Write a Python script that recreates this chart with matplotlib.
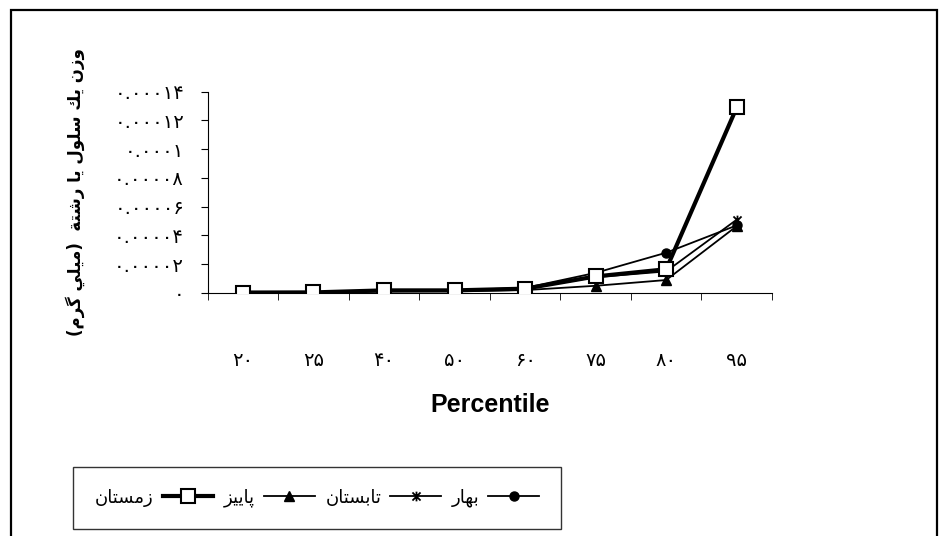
import matplotlib
matplotlib.use("Agg")
import matplotlib.pyplot as plt
import numpy as np
from matplotlib.path import Path
from matplotlib.patches import Rectangle

# categories (percentiles) and series values (mg)
percentiles = ["۲۰", "۲۵", "۴۰", "۵۰", "۶۰", "۷۵", "۸۰", "۹۵"]
spring = [3e-7, 4e-7, 1.5e-6, 2.0e-6, 3.5e-6, 1.40e-5, 2.80e-5, 4.70e-5]
summer = [3e-7, 4e-7, 1.5e-6, 1.8e-6, 3.0e-6, 1.10e-5, 1.50e-5, 5.10e-5]
autumn = [2e-7, 3e-7, 1.0e-6, 1.2e-6, 2.0e-6, 5.0e-6, 9.0e-6, 4.65e-5]
winter = [3e-7, 4e-7, 1.8e-6, 1.8e-6, 3.0e-6, 1.15e-5, 1.65e-5, 1.29e-4]

ytick_values = [0, 2e-5, 4e-5, 6e-5, 8e-5, 1e-4, 1.2e-4, 1.4e-4]
ytick_labels = ["۰", "۰.۰۰۰۰۲", "۰.۰۰۰۰۴", "۰.۰۰۰۰۶", "۰.۰۰۰۰۸",
                "۰.۰۰۰۱", "۰.۰۰۰۱۲", "۰.۰۰۰۱۴"]

name_spring = "بهار"
name_summer = "تابستان"
name_autumn = "پاييز"
name_winter = "زمستان"
ylabel_text = "وزن يك سلول يا رشتة  (ميلي گرم)"

# presentation forms: isolated, final, initial, medial
FORMS = {
    "ا": ("\uFE8D", "\uFE8E", None, None),
    "ب": ("\uFE8F", "\uFE90", "\uFE91", "\uFE92"),
    "پ": ("\uFB56", "\uFB57", "\uFB58", "\uFB59"),
    "ت": ("\uFE95", "\uFE96", "\uFE97", "\uFE98"),
    "ة": ("\uFE93", "\uFE94", None, None),
    "ر": ("\uFEAD", "\uFEAE", None, None),
    "ز": ("\uFEAF", "\uFEB0", None, None),
    "س": ("\uFEB1", "\uFEB2", "\uFEB3", "\uFEB4"),
    "ش": ("\uFEB5", "\uFEB6", "\uFEB7", "\uFEB8"),
    "ك": ("\uFED9", "\uFEDA", "\uFEDB", "\uFEDC"),
    "گ": ("\uFB92", "\uFB93", "\uFB94", "\uFB95"),
    "ل": ("\uFEDD", "\uFEDE", "\uFEDF", "\uFEE0"),
    "م": ("\uFEE1", "\uFEE2", "\uFEE3", "\uFEE4"),
    "ن": ("\uFEE5", "\uFEE6", "\uFEE7", "\uFEE8"),
    "ه": ("\uFEE9", "\uFEEA", "\uFEEB", "\uFEEC"),
    "و": ("\uFEED", "\uFEEE", None, None),
    "ي": ("\uFEF1", "\uFEF2", "\uFEF3", "\uFEF4"),
}


def rtl(text):
    # join letters and flip to visual order (no bidi lib available)
    out = []
    for i, ch in enumerate(text):
        if ch not in FORMS:
            out.append(ch)
            continue
        prev = text[i - 1] if i > 0 else ""
        nxt = text[i + 1] if i + 1 < len(text) else ""
        join_prev = prev in FORMS and FORMS[prev][2] is not None
        join_next = nxt in FORMS and FORMS[ch][2] is not None
        iso, fin, ini, med = FORMS[ch]
        if join_prev and join_next:
            out.append(med)
        elif join_prev:
            out.append(fin)
        elif join_next:
            out.append(ini)
        else:
            out.append(iso)
    vis = "".join(out)[::-1]
    return vis.translate(str.maketrans("()", ")("))


star = Path([(-1, -1), (1, 1), (-1, 1), (1, -1), (0, -1.2), (0, 1.2)],
            [Path.MOVETO, Path.LINETO, Path.MOVETO, Path.LINETO, Path.MOVETO, Path.LINETO])

fig = plt.figure(figsize=(9.49, 5.36), dpi=100)
fig.patches.append(Rectangle((11 / 949, -0.1), 926 / 949, 1 - 10 / 536 + 0.1,
                             transform=fig.transFigure, fill=False,
                             edgecolor="black", linewidth=1.6))
ax = fig.add_axes([0.2188, 0.4534, 0.5947, 0.3757])

x = np.arange(len(percentiles))
ax.plot(x, spring, color="black", lw=1.3, marker="o", ms=6.5, label=rtl(name_spring), zorder=3)
ax.plot(x, summer, color="black", lw=1.3, marker=star, ms=7, mew=1.3, label=rtl(name_summer), zorder=3)
ax.plot(x, autumn, color="black", lw=1.3, marker="^", ms=7, label=rtl(name_autumn), zorder=3)
ax.plot(x, winter, color="black", lw=3, marker="s", ms=10.5, mfc="white", mec="black",
        mew=1.5, label=rtl(name_winter), zorder=4)

ax.set_xlim(-0.5, len(percentiles) - 0.5)
ax.set_ylim(0, 1.4e-4)
ax.spines["top"].set_visible(False)
ax.spines["right"].set_visible(False)

ax.set_xticks(x)
ax.set_xticklabels(percentiles, fontsize=14, family="DejaVu Sans")
ax.set_xticks(np.arange(-0.5, len(percentiles)), minor=True)
ax.tick_params(axis="x", which="major", length=0, pad=42)
ax.tick_params(axis="x", which="minor", length=5, direction="out")
ax.set_yticks(ytick_values)
ax.set_yticklabels(ytick_labels, fontsize=14, family="DejaVu Sans")
ax.tick_params(axis="y", length=5, direction="out", pad=12)

ax.set_xlabel("Percentile", fontsize=18, fontweight="bold", family="Liberation Sans", va="center")
ax.xaxis.set_label_coords(0.5, -0.555)
ax.set_ylabel(rtl(ylabel_text), fontsize=12, fontweight="bold", family="DejaVu Sans",
              va="center", ha="center")
ax.yaxis.set_label_coords(-0.234, 0.5)

handles, labels = ax.get_legend_handles_labels()
leg = fig.legend(handles[::-1], labels[::-1], ncol=4, markerfirst=False,
                 loc="center", bbox_to_anchor=(317 / 949, 1 - 498 / 536),
                 frameon=True, fancybox=False, edgecolor="black",
                 handlelength=2.8, columnspacing=0.6, handletextpad=0.5,
                 borderpad=1.2, prop={"family": "DejaVu Sans", "size": 13})
leg.get_frame().set_linewidth(1.0)

fig.savefig("out.png", dpi=100)
